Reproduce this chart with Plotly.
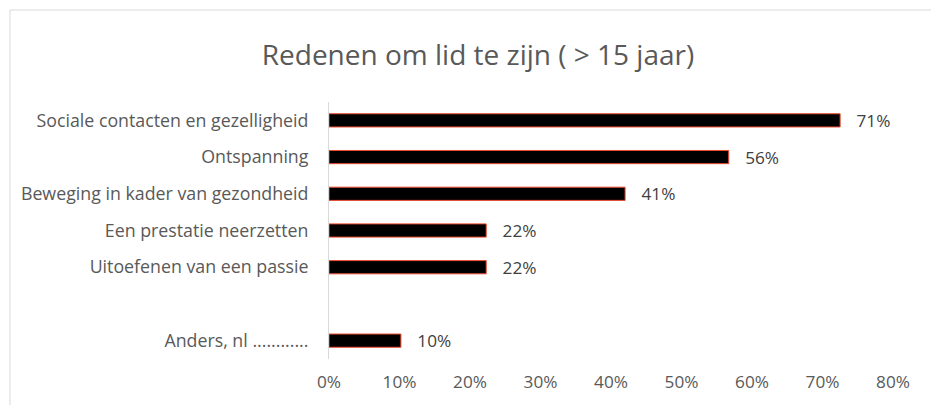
import plotly.graph_objects as go

categories = [
    "Sociale contacten en gezelligheid",
    "Ontspanning",
    "Beweging in kader van gezondheid",
    "Een prestatie neerzetten",
    "Uitoefenen van een passie",
    " ",
    "Anders, nl ............",
]
values = [0.725, 0.567, 0.42, 0.223, 0.223, None, 0.102]
value_labels = ["71%", "56%", "41%", "22%", "22%", "", "10%"]
x_ticks = [0, 0.1, 0.2, 0.3, 0.4, 0.5, 0.6, 0.7, 0.8]
x_tick_labels = ["0%", "10%", "20%", "30%", "40%", "50%", "60%", "70%", "80%"]
title_text = "Redenen om lid te zijn ( > 15 jaar)"

FONT = "Open Sans"
GREY = "#595959"

fig = go.Figure()
fig.add_trace(go.Bar(
    y=categories,
    x=values,
    orientation="h",
    marker=dict(color="#000000", line=dict(color="#f04a2f", width=1)),
    text=["\u00a0\u00a0\u00a0" + t if t else "" for t in value_labels],
    textposition="outside",
    constraintext="none",
    textfont=dict(family=FONT, size=17.2, color="#404040"),
    cliponaxis=False,
    hoverinfo="skip",
))

# page has an 8px body offset
OFF = 8
W, H = 939, 405
PL, PT = 329, 102          # plot-area left/top on the page
pw, ph = 564, 257
L, T = PL - OFF, PT - OFF
R = W - L - pw
B = H - T - ph

def px_x(p):
    return (p - PL) / pw

def px_y(p):
    return (PT + ph - p) / ph

fig.update_layout(
    width=W, height=H,
    margin=dict(l=L, r=R, t=T, b=B),
    paper_bgcolor="white", plot_bgcolor="white",
    showlegend=False,
    bargap=0.64,
    title=dict(text=title_text, x=(478 - OFF) / W, xanchor="center", y=1 - (55 - OFF) / H, yanchor="middle",
               font=dict(family=FONT, size=28, color=GREY)),
    xaxis=dict(range=[0, 0.8], tickvals=x_ticks, ticktext=x_tick_labels,
               showgrid=False, zeroline=False, showline=False, ticks="",
               tickfont=dict(family=FONT, size=17.2, color=GREY), ticklabelstandoff=11),
    yaxis=dict(categoryorder="array", categoryarray=categories, autorange="reversed",
               showgrid=False, zeroline=False, showline=True, linecolor="#d9d9d9", linewidth=1,
               ticks="", tickfont=dict(family=FONT, size=17.8, color=GREY), ticklabelstandoff=16),
    shapes=[
        dict(type="line", xref="paper", yref="paper", x0=px_x(10), x1=px_x(960), y0=px_y(10), y1=px_y(10),
             line=dict(color="#d9d9d9", width=1)),
        dict(type="line", xref="paper", yref="paper", x0=px_x(10), x1=px_x(10), y0=px_y(10), y1=px_y(420),
             line=dict(color="#d9d9d9", width=1)),
    ],
)

fig.write_html("out.html")
